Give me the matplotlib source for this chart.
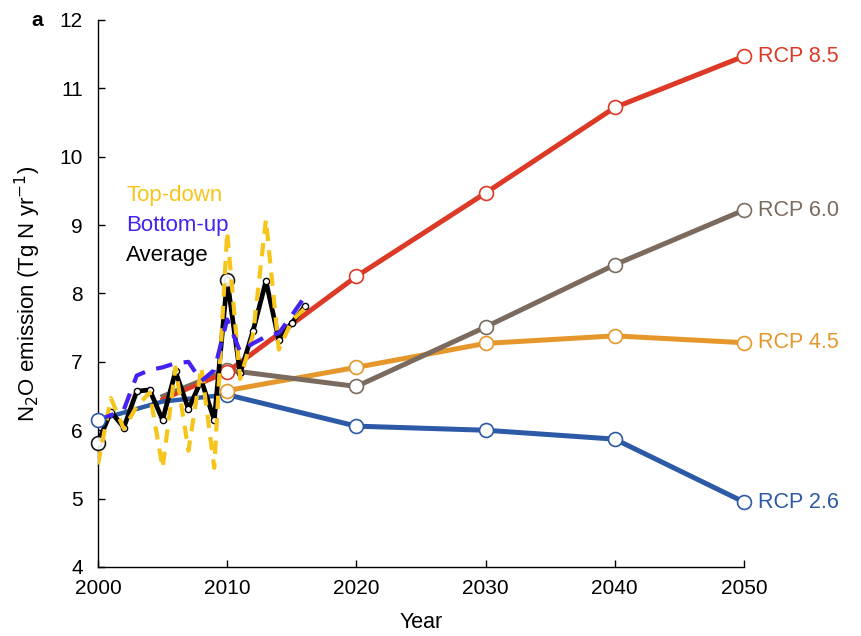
"""N2O emission: observed estimates 2000-2016 and RCP projections to 2050."""

from matplotlib import pyplot as plt

plt.rcParams["font.family"] = ["Liberation Sans", "DejaVu Sans"]

# Observed annual estimates (Tg N yr-1)
obs_years = list(range(2000, 2017))
top_down = [5.5, 6.47, 6.02, 6.35, 6.55, 5.45, 6.92, 5.7, 6.92, 5.45,
            8.9, 6.75, 7.4, 9.08, 7.18, 7.6, 7.78]
bottom_up = [6.15, 6.22, 6.3, 6.8, 6.88, 6.92, 6.98, 7.0, 6.72, 6.88,
             7.62, 7.15, 7.27, 7.37, 7.42, 7.68, 7.95]
average = [5.82, 6.27, 6.04, 6.57, 6.59, 6.15, 6.86, 6.31, 6.73, 6.15,
           8.2, 6.83, 7.45, 8.18, 7.32, 7.57, 7.81]

# RCP scenarios
rcp_years = [2010, 2020, 2030, 2040, 2050]
rcp85 = [6.85, 8.25, 9.47, 10.72, 11.47]
rcp60 = [6.88, 6.64, 7.51, 8.42, 9.22]
rcp45 = [6.58, 6.92, 7.27, 7.38, 7.28]
rcp26 = [6.52, 6.06, 6.0, 5.87, 4.95]
hist26_years = [2000, 2005, 2010]
hist26 = [6.15, 6.42, 6.52]
hist_years = [2005, 2010]
hist60 = [6.5, 6.88]
hist85 = [6.45, 6.85]

RED = "#dc3a26"
BROWN = "#7b6b5f"
ORANGE = "#e6972b"
BLUE = "#2c5aa6"
YELLOW = "#f7c51a"
PURPLE = "#4422f2"
FONT = 15

figure = plt.figure(figsize=(8.61, 6.36), dpi=100)
axis = figure.add_axes([0.1138, 0.1085, 0.7503, 0.8601])

# historical part of the scenario lines
axis.plot(hist_years, hist60, color=BROWN, linewidth=3.2, zorder=1)
axis.plot(hist_years, hist85, color=RED, linewidth=3.2, zorder=1)
axis.plot(hist26_years, hist26, color=BLUE, linewidth=3.2, zorder=1.5)
axis.plot(hist26_years[0], hist26[0], "o", color=BLUE, markerfacecolor="white",
          markersize=10, markeredgewidth=1.2, zorder=6, clip_on=False)

scenarios = [
    ("RCP 2.6", rcp26, BLUE),
    ("RCP 4.5", rcp45, ORANGE),
    ("RCP 6.0", rcp60, BROWN),
    ("RCP 8.5", rcp85, RED),
]
for label, values, color in scenarios:
    axis.plot(rcp_years, values, color=color, linewidth=3.6, zorder=2,
              marker="o", markersize=10, markerfacecolor="white",
              markeredgecolor=color, markeredgewidth=1.2, clip_on=False)
    axis.annotate(label, (rcp_years[-1], values[-1]), xytext=(10, 0),
                  textcoords="offset points", va="center", ha="left",
                  color=color, fontsize=FONT + 0.5, annotation_clip=False)

# observed estimates
axis.plot(obs_years, average, color="black", linewidth=3.4, zorder=3,
          marker="o", markersize=4.5, markerfacecolor="white",
          markeredgecolor="black", markeredgewidth=1.0)
axis.plot([obs_years[0], obs_years[10]], [average[0], average[10]], "o",
          markersize=10, markerfacecolor="white", markeredgecolor="black",
          markeredgewidth=1.2, zorder=3.5, alpha=0.9, clip_on=False)
axis.plot(obs_years, top_down, color=YELLOW, linewidth=3.0,
          dashes=(3.2, 2.2), zorder=4)
axis.plot(obs_years, bottom_up, color=PURPLE, linewidth=3.0,
          dashes=(4.0, 2.8), zorder=5)

axis.text(2002.2, 9.44, "Top-down", color=YELLOW, fontsize=FONT + 1, va="center")
axis.text(2002.2, 9.0, "Bottom-up", color=PURPLE, fontsize=FONT + 1, va="center")
axis.text(2002.2, 8.56, "Average", color="black", fontsize=FONT + 1, va="center")

axis.set_xlim(2000, 2050)
axis.set_ylim(4, 12)
axis.set_xticks(range(2000, 2051, 10))
axis.set_yticks(range(4, 13))
axis.tick_params(direction="in", length=5, width=1.0, labelsize=FONT)
axis.tick_params(axis="x", pad=9)
axis.tick_params(axis="y", pad=11)
axis.spines["top"].set_visible(False)
axis.spines["right"].set_visible(False)
for spine in ("left", "bottom"):
    axis.spines[spine].set_linewidth(1.0)

axis.set_xlabel("Year", fontsize=FONT + 0.5)
axis.set_ylabel("N$_2$O emission (Tg N yr$^{-1}$)", fontsize=FONT + 1)
axis.xaxis.set_label_coords(0.5, -0.082)
axis.yaxis.set_label_coords(-0.085, 0.5)

figure.text(0.036, 0.968, "a", fontsize=FONT, fontweight="bold", va="center")

figure.savefig("out.png", dpi=100)
